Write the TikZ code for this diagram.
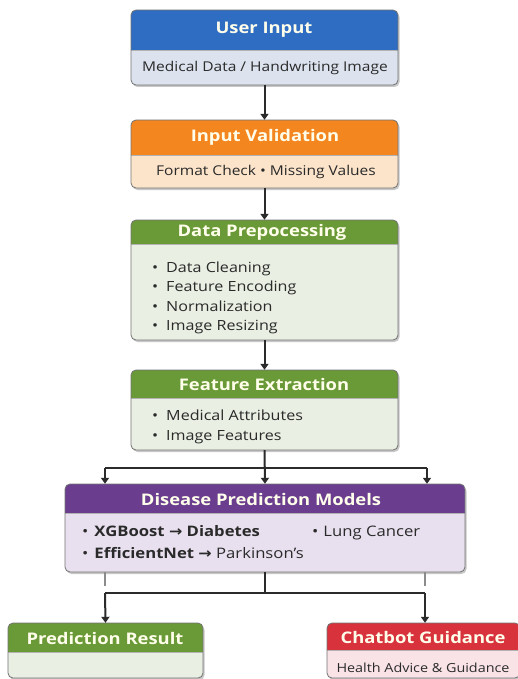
\documentclass[tikz,border=0pt]{standalone}
\usepackage{fontspec}
\setmainfont{Open Sans}[FakeStretch=1.15]
\newfontfamily\symfont{DejaVu Sans}[FakeStretch=1.1]
\usetikzlibrary{arrows.meta,fit}
\definecolor{bluehdr}{HTML}{2F6DC2}
\definecolor{bluebody}{HTML}{DCE3EF}
\definecolor{orghdr}{HTML}{F4861F}
\definecolor{orgbody}{HTML}{FCE4CA}
\definecolor{grnhdr}{HTML}{6A9A37}
\definecolor{grnbody}{HTML}{E9EFE3}
\definecolor{purhdr}{HTML}{6A3D8F}
\definecolor{purbody}{HTML}{E8E0EF}
\definecolor{redhdr}{HTML}{D8333D}
\definecolor{redbody}{HTML}{F9E3E6}
\definecolor{txt}{HTML}{2A2A2A}
\definecolor{edge}{HTML}{2B2B2B}
\tikzset{
  boxline/.style={draw=black!55,line width=0.8pt},
  hdrtext/.style={font=\fontsize{16}{18}\selectfont\bfseries,text=white!92!yellow},
  bodytext/.style={font=\fontsize{13.5}{15}\selectfont,text=txt},
  itemtext/.style={font=\fontsize{14}{16}\selectfont,text=txt,anchor=base west,inner sep=0pt},
  dmtext/.style={font=\fontsize{14.5}{16}\selectfont,text=txt,anchor=base west,inner sep=0pt},
  flow/.style={draw=edge,line width=2pt,-{Triangle[width=8pt,length=6pt]}},
  plainline/.style={draw=edge,line width=2pt},
  stub/.style={draw=black!45,line width=1.2pt},
}
\newcommand\flowbox[8]{%
  \fill[black!22,rounded corners=5pt] (#2+1.5,#3+2) rectangle (#4+1.5,#5+2);
  \fill[#8,rounded corners=5pt] (#2,#3) rectangle (#4,#5);
  \begin{scope}
    \clip[rounded corners=5pt] (#2,#3) rectangle (#4,#5);
    \fill[#7] (#2,#3) rectangle (#4,#6);
    \draw[black!30,line width=0.6pt] (#2,#6) -- (#4,#6);
  \end{scope}
  \draw[boxline,rounded corners=5pt] (#2,#3) rectangle (#4,#5);
  \node[fit={(#2,#3) (#4,#5)},inner sep=0pt] (#1) {};
}
\begin{document}
\begin{tikzpicture}[x=1pt,y=-1pt]
\useasboundingbox[fill=white] (0,0) rectangle (518,679);

% boxes
\flowbox{ui}{131}{10}{398}{85}{50}{bluehdr}{bluebody}
\flowbox{iv}{131}{120}{398}{188}{155}{orghdr}{orgbody}
\flowbox{dp}{131}{220}{398}{340}{244}{grnhdr}{grnbody}
\flowbox{fe}{131}{370}{398}{450}{398}{grnhdr}{grnbody}
\flowbox{dm}{65}{484}{465}{572}{513}{purhdr}{purbody}
\flowbox{pr}{8}{623}{203}{678}{652}{grnhdr}{grnbody}
\flowbox{cg}{327}{623}{520}{678}{650}{redhdr}{redbody}

% texts
\node[hdrtext] (uih) at (264,30) {User Input};
\node[bodytext] (uib) at (265,68) {Medical Data / Handwriting Image};
\node[hdrtext] (ivh) at (265,137) {Input Validation};
\node[bodytext] (ivb) at (266,172) {Format Check • Missing Values};
\node[hdrtext] (dph) at (262,232) {Data Prepocessing};
\node[itemtext] (dp1) at (152,272) {•\hspace{8pt}Data Cleaning};
\node[itemtext] (dp2) at (152,291) {•\hspace{8pt}Feature Encoding};
\node[itemtext] (dp3) at (152,311) {•\hspace{8pt}Normalization};
\node[itemtext] (dp4) at (152,330) {•\hspace{8pt}Image Resizing};
\node[hdrtext] (feh) at (264,384) {Feature Extraction};
\node[itemtext] (fe1) at (152,420) {•\hspace{8pt}Medical Attributes};
\node[itemtext] (fe2) at (152,440) {•\hspace{8pt}Image Features};
\node[hdrtext] (dmh) at (261,499) {Disease Prediction Models};
\node[dmtext] (dm1) at (82,536) {•\hspace{6pt}\textbf{XGBoost {\symfont\bfseries →} Diabetes}};
\node[dmtext] (dm2) at (312,536) {•\hspace{5pt}Lung Cancer};
\node[dmtext] (dm3) at (82,558) {•\hspace{6pt}\textbf{EfficientNet {\symfont\bfseries →}} Parkinson’s};
\node[hdrtext] (prh) at (105,638) {Prediction Result};
\node[hdrtext] (cgh) at (423,637) {Chatbot Guidance};
\node[bodytext,font=\fontsize{12.5}{14}\selectfont] (cgb) at (423,668) {Health Advice \& Guidance};

% connectors
\draw[flow] (ui.south) -- (iv.north);
\draw[flow] (iv.south) -- (dp.north);
\draw[flow] (dp.south) -- (fe.north);
\draw[flow] (fe.south) -- (dm.north);
\coordinate (jl) at (105,468);
\coordinate (jr) at (427,468);
\draw[plainline] (jl) -- (jr);
\draw[flow] (jl) -- (jl |- dm.north);
\draw[flow] (jr) -- (jr |- dm.north);

\coordinate (bl) at (105,593);
\coordinate (br) at (425,593);
\coordinate (sl) at (105,586);
\coordinate (sr) at (425,586);
\draw[stub] (sl |- dm.south) -- (sl);
\draw[stub] (sr |- dm.south) -- (sr);
\draw[plainline] (dm.south) -- (dm.south |- bl);
\draw[plainline] (bl) -- (br);
\draw[flow] (bl) -- (pr.north);
\draw[flow] (br) -- (br |- cg.north);
\end{tikzpicture}
\end{document}
